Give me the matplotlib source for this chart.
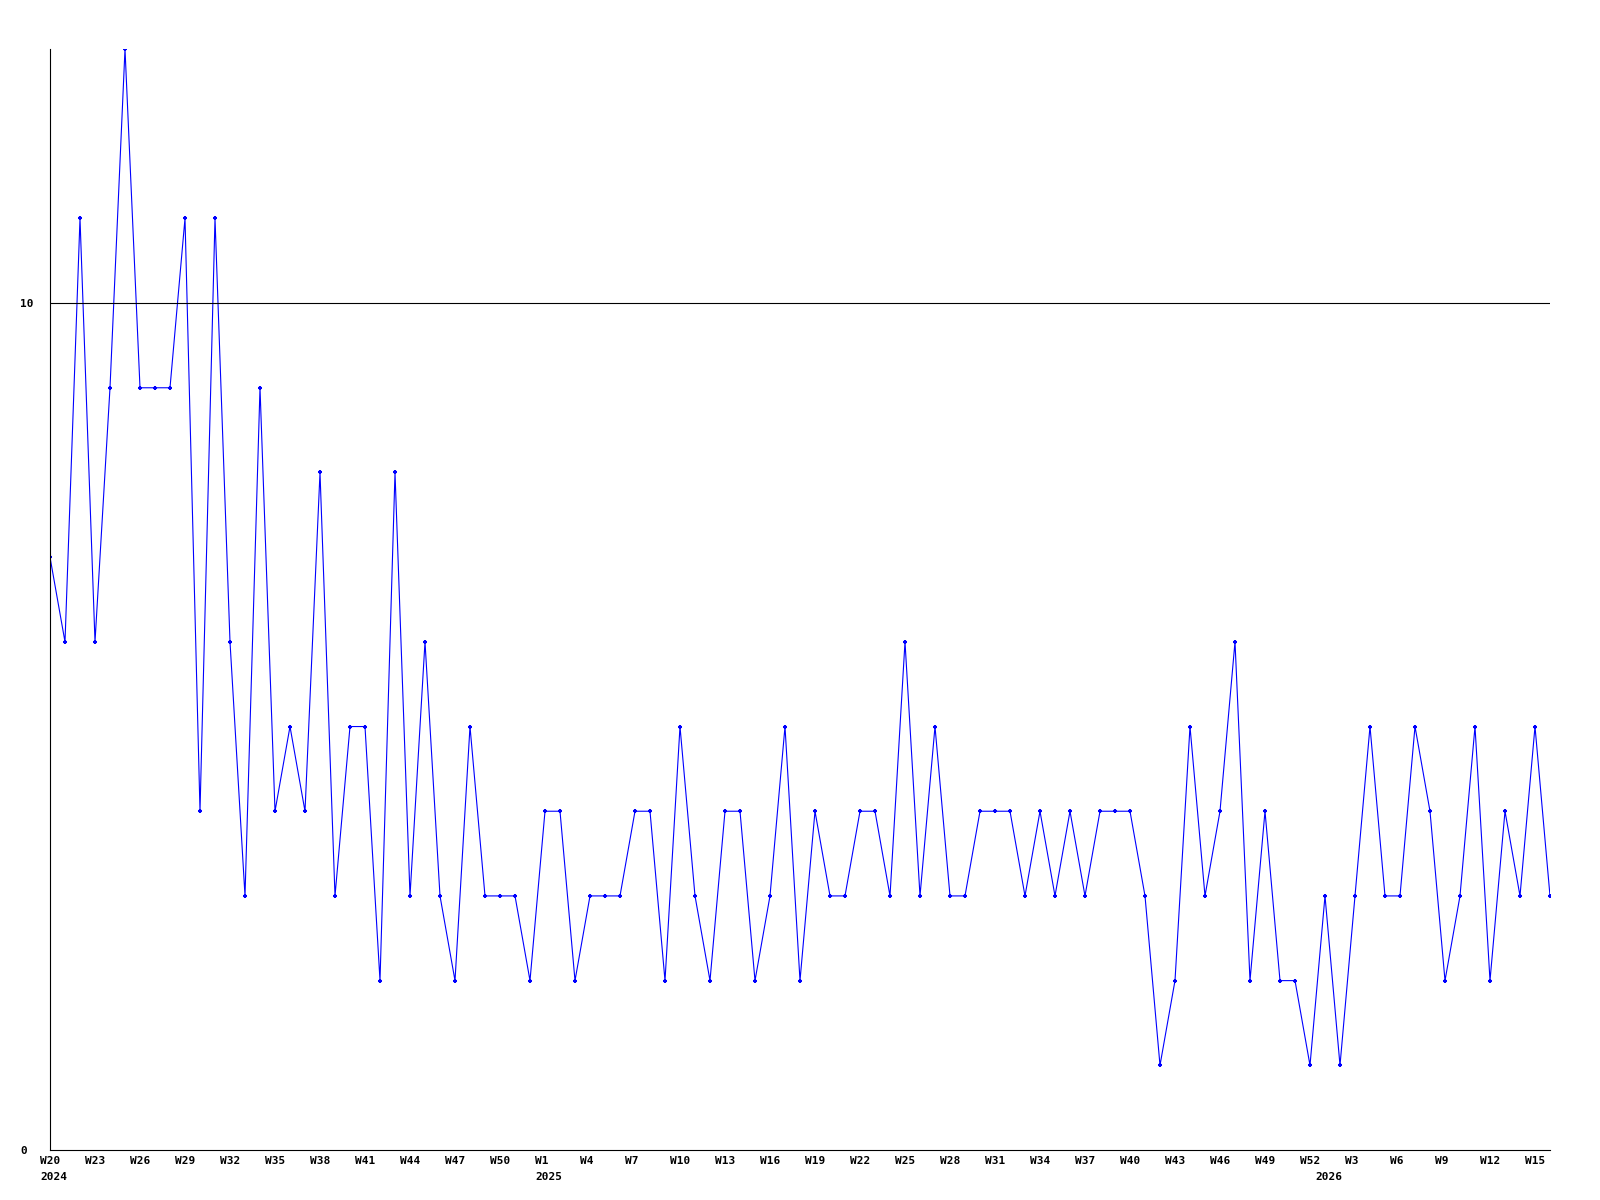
import matplotlib
matplotlib.use('Agg')
import matplotlib.pyplot as plt
import matplotlib.transforms as mtransforms

# ISO weeks covered: 2024 W20 .. 2026 W16
years = [2024] * 33 + [2025] * 52 + [2026] * 16
weeks = list(range(20, 53)) + list(range(1, 53)) + list(range(1, 17))

counts = [7, 6, 11, 6, 9, 13, 9, 9, 9, 11, 4, 11, 6, 3, 9, 4, 5, 4, 8, 3,
          5, 5, 2, 8, 3, 6, 3, 2, 5, 3, 3, 3, 2, 4, 4, 2, 3, 3, 3, 4,
          4, 2, 5, 3, 2, 4, 4, 2, 3, 5, 2, 4, 3, 3, 4, 4, 3, 6, 3, 5,
          3, 3, 4, 4, 4, 3, 4, 3, 4, 3, 4, 4, 4, 3, 1, 2, 5, 3, 4, 6,
          2, 4, 2, 2, 1, 3, 1, 3, 5, 3, 3, 5, 4, 2, 3, 5, 2, 4, 3, 5, 3]

x = list(range(len(counts)))

fig = plt.figure(figsize=(16, 12), dpi=100)
ax = fig.add_axes([50 / 1600, 50 / 1200, 1500 / 1600, 1101 / 1200])

ax.plot(x, counts, color='#0000ff', linewidth=0.8, marker='+',
        markersize=3.5, markeredgewidth=1.5)
ax.axhline(10, color='black', linewidth=0.8)

ax.set_xlim(0, len(counts) - 1)
ax.set_ylim(0, 13)

for s in ['top', 'right']:
    ax.spines[s].set_visible(False)
for s in ['left', 'bottom']:
    ax.spines[s].set_linewidth(0.8)

font = dict(family='DejaVu Sans Mono', fontsize=8, fontweight='bold')

# labels start 10 px left of their point
offset = mtransforms.ScaledTranslation(-10 / 100, 0, fig.dpi_scale_trans)

# week labels every 3 weeks
ticks = x[::3]
ax.set_xticks(ticks)
ax.set_xticklabels([f'W{weeks[i]}' for i in ticks], ha='left', **font)
ax.tick_params(axis='x', length=0, pad=4)
for lbl in ax.get_xticklabels():
    lbl.set_transform(lbl.get_transform() + offset)

# year labels under the first week of each year
trans = mtransforms.blended_transform_factory(ax.transData, fig.transFigure)
for i in x:
    if i == 0 or years[i] != years[i - 1]:
        fig.text(i, 1 - 1172 / 1200, str(years[i]), ha='left', va='top',
                 transform=trans + offset, **font)

ax.set_yticks([0, 10])
ax.set_yticklabels(['0', '10'], ha='left', **font)
ax.tick_params(axis='y', length=0, pad=21.6)

fig.savefig('out.png', dpi=100, facecolor='white')
